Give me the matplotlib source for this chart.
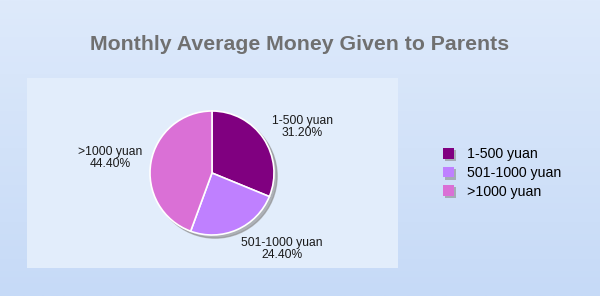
import matplotlib
matplotlib.use("Agg")
import matplotlib.pyplot as plt
import numpy as np
from matplotlib.patches import Circle
import matplotlib.patheffects as pe

categories = ["1-500 yuan", "501-1000 yuan", ">1000 yuan"]
values = [31.20, 24.40, 44.40]
colors = ["#800080", "#bf80ff", "#da70d6"]
title = "Monthly Average Money Given to Parents"

plt.rcParams['font.family'] = ['Liberation Sans', 'DejaVu Sans']

W, H = 600, 296
fig = plt.figure(figsize=(W / 100, H / 100), dpi=100)

# background gradient
bg = fig.add_axes([0, 0, 1, 1])
grad = np.linspace(0, 1, 256).reshape(-1, 1)
top = np.array([0xde, 0xea, 0xfb]) / 255
bot = np.array([0xc6, 0xda, 0xf7]) / 255
img = top[None, None, :] * (1 - grad[:, :, None]) + bot[None, None, :] * grad[:, :, None]
bg.imshow(img, aspect='auto', extent=[0, 1, 0, 1])
bg.set_xlim(0, 1); bg.set_ylim(0, 1)
bg.axis('off')

def rect(x0, y0, x1, y1):
    return [x0 / W, 1 - y1 / H, (x1 - x0) / W, (y1 - y0) / H]

# plot panel
panel = fig.add_axes(rect(27, 78, 398, 268))
panel.set_facecolor("#e2edfb")
panel.set_xticks([]); panel.set_yticks([])
for s in panel.spines.values():
    s.set_visible(False)

fig.text(0.5, 1 - 44 / H, title, ha='center', va='center', fontsize=15.3,
         fontweight='bold', color='#707070')

# pie axes
cx, cy, r = 212, 173, 62
pax = fig.add_axes(rect(cx - r, cy - r, cx + r, cy + r))
pax.set_xlim(-1, 1); pax.set_ylim(-1, 1)
pax.set_aspect('equal')
pax.axis('off')
pax.add_patch(Circle((0.05, -0.05), 1.0, color='#8a8a8a', alpha=0.6, zorder=0,
                     clip_on=False))
wedges, _ = pax.pie(values, colors=colors, startangle=90, counterclock=False,
                    radius=1.0, wedgeprops=dict(edgecolor='white', linewidth=1.2),
                    frame=False)
pax.set_xlim(-1, 1); pax.set_ylim(-1, 1)
for w in wedges:
    w.set_clip_on(False)

# labels
label_pos = [(302, 127), (282, 249), (110, 158)]
for (lx, ly), c, v in zip(label_pos, categories, values):
    fig.text(lx / W, 1 - ly / H, f"{c}\n{v:.2f}%", ha='center', va='center',
             fontsize=8.7, color='#1a1a1a', linespacing=0.9)

# legend
leg = fig.legend(wedges, categories, loc='center left',
                 bbox_to_anchor=(436 / W, 1 - 173 / H), frameon=False,
                 fontsize=10.2, handlelength=0.8, handleheight=0.8,
                 handletextpad=0.9, labelspacing=0.32, borderpad=0)
for h in leg.legend_handles:
    h.set_edgecolor('none')
    h.set_path_effects([pe.SimplePatchShadow(offset=(1.5, -1.5), shadow_rgbFace='#8a8a8a', alpha=0.6), pe.Normal()])

fig.savefig("out.png", dpi=100)
